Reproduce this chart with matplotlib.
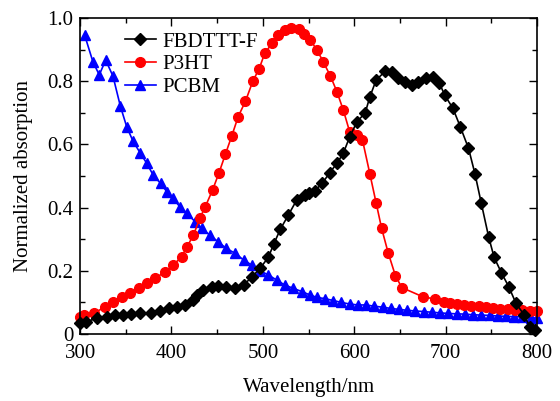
import matplotlib
matplotlib.use("Agg")
import matplotlib.pyplot as plt
from matplotlib.ticker import MultipleLocator, FuncFormatter

plt.rcParams['font.family'] = ['Liberation Serif', 'DejaVu Serif']

# FBDTTT-F absorption
wl_fb = [300, 307, 318, 329, 338, 347, 356, 366, 378, 387, 397, 406, 415, 424, 428,
         435, 444, 451, 460, 470, 479, 488, 497, 506, 512, 519, 528, 537, 546, 550,
         557, 565, 573, 581, 588, 595, 603, 612, 617, 624, 634, 641, 648, 656, 663,
         670, 679, 686, 693, 699, 708, 716, 725, 732, 739, 747, 753, 761, 769, 777,
         786, 792, 798]
abs_fb = [0.035, 0.039, 0.05, 0.055, 0.06, 0.06, 0.063, 0.065, 0.068, 0.073, 0.081, 0.084,
          0.092, 0.108, 0.123, 0.139, 0.15, 0.152, 0.15, 0.145, 0.155, 0.181, 0.208, 0.243,
          0.285, 0.331, 0.377, 0.424, 0.44, 0.447, 0.454, 0.477, 0.51, 0.54, 0.572, 0.624,
          0.672, 0.70, 0.75, 0.804, 0.832, 0.83, 0.81, 0.798, 0.788, 0.798, 0.81, 0.814,
          0.795, 0.756, 0.714, 0.656, 0.588, 0.508, 0.414, 0.308, 0.243, 0.194, 0.15, 0.097,
          0.06, 0.023, 0.013]

# P3HT absorption
wl_p3 = [300, 304, 315, 327, 336, 346, 355, 364, 373, 382, 393, 402, 411, 417, 424, 431,
         437, 445, 452, 459, 466, 473, 481, 489, 496, 502, 510, 517, 524, 531, 539, 545,
         552, 559, 566, 574, 581, 588, 595, 603, 609, 617, 624, 630, 637, 645, 652, 675,
         688, 698, 705, 712, 720, 728, 736, 744, 752, 760, 768, 776, 784, 792, 800]
abs_p3 = [0.055, 0.06, 0.065, 0.086, 0.102, 0.118, 0.131, 0.145, 0.16, 0.176, 0.197, 0.218,
          0.245, 0.276, 0.313, 0.366, 0.403, 0.456, 0.51, 0.569, 0.627, 0.688, 0.737, 0.80,
          0.84, 0.888, 0.92, 0.946, 0.962, 0.97, 0.965, 0.951, 0.93, 0.90, 0.862, 0.816,
          0.767, 0.709, 0.64, 0.63, 0.614, 0.508, 0.414, 0.334, 0.258, 0.185, 0.147, 0.118,
          0.111, 0.102, 0.099, 0.096, 0.093, 0.09, 0.088, 0.085, 0.083, 0.08, 0.078, 0.077,
          0.075, 0.074, 0.073]

# PCBM absorption
wl_pc = [305, 314, 321, 328, 336, 344, 351, 358, 366, 373, 380, 388, 395, 402, 409, 417,
         426, 433, 442, 451, 460, 470, 479, 488, 497, 506, 515, 524, 533, 543, 552, 559,
         568, 577, 586, 595, 604, 613, 622, 631, 640, 649, 658, 667, 676, 685, 694, 703,
         712, 721, 730, 739, 748, 757, 766, 775, 784, 793, 800]
abs_pc = [0.946, 0.862, 0.82, 0.867, 0.816, 0.722, 0.656, 0.61, 0.572, 0.54, 0.503, 0.477,
          0.45, 0.429, 0.403, 0.382, 0.355, 0.334, 0.313, 0.292, 0.271, 0.255, 0.234, 0.218,
          0.2, 0.187, 0.171, 0.155, 0.145, 0.134, 0.123, 0.116, 0.112, 0.106, 0.1, 0.095,
          0.092, 0.092, 0.088, 0.085, 0.081, 0.078, 0.075, 0.073, 0.071, 0.069, 0.067, 0.065,
          0.064, 0.063, 0.061, 0.06, 0.059, 0.057, 0.056, 0.055, 0.054, 0.052, 0.05]

fig = plt.figure(figsize=(5.6, 4.01), dpi=100)
ax = fig.add_axes([0.143, 0.167, 0.816, 0.788])

l3, = ax.plot(wl_pc, abs_pc, color='#0000ff', marker='^', ms=7.5, lw=1.2,
              label='PCBM', clip_on=False)
l2, = ax.plot(wl_p3, abs_p3, color='#ff0000', marker='o', ms=7, lw=1.2,
              label='P3HT', clip_on=False)
l1, = ax.plot(wl_fb, abs_fb, color='black', marker='D', ms=6.3, lw=1.2,
              label='FBDTTT-F', clip_on=False)

ax.set_xlim(300, 800)
ax.set_ylim(0, 1.0)
ax.xaxis.set_major_locator(MultipleLocator(100))
ax.xaxis.set_minor_locator(MultipleLocator(50))
ax.yaxis.set_major_locator(MultipleLocator(0.2))
ax.yaxis.set_minor_locator(MultipleLocator(0.1))
ax.yaxis.set_major_formatter(FuncFormatter(lambda v, p: '0' if abs(v) < 1e-9 else '%.1f' % v))

ax.tick_params(which='both', direction='in', top=True, right=True, labelsize=15, width=1)
ax.tick_params(which='major', length=6)
ax.tick_params(which='minor', length=3.5)
ax.tick_params(axis='x', which='major', pad=7)
ax.tick_params(axis='y', which='major', pad=5)
for s in ax.spines.values():
    s.set_linewidth(1.2)

ax.set_xlabel('Wavelength/nm', fontsize=15, labelpad=11)
ax.set_ylabel('Normalized absorption', fontsize=15, labelpad=10)

ax.legend(handles=[l1, l2, l3], loc='upper left', bbox_to_anchor=(0.07, 0.995),
          frameon=False, fontsize=15, handlelength=1.5, handletextpad=0.3,
          labelspacing=0.15, borderaxespad=0.2)

fig.savefig('out.png', dpi=100)
